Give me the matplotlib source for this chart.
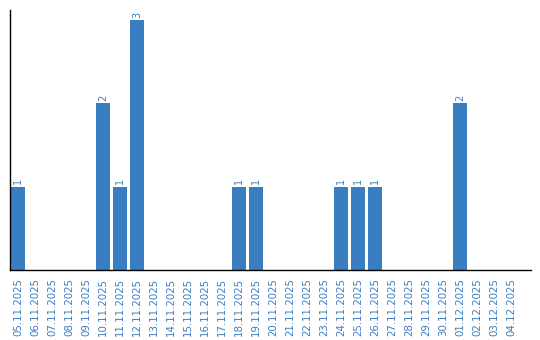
import matplotlib
matplotlib.use("Agg")
import matplotlib.pyplot as plt

dates = ["05.11.2025", "06.11.2025", "07.11.2025", "08.11.2025", "09.11.2025",
         "10.11.2025", "11.11.2025", "12.11.2025", "13.11.2025", "14.11.2025",
         "15.11.2025", "16.11.2025", "17.11.2025", "18.11.2025", "19.11.2025",
         "20.11.2025", "21.11.2025", "22.11.2025", "23.11.2025", "24.11.2025",
         "25.11.2025", "26.11.2025", "27.11.2025", "28.11.2025", "29.11.2025",
         "30.11.2025", "01.12.2025", "02.12.2025", "03.12.2025", "04.12.2025"]
counts = [1, 0, 0, 0, 0, 2, 1, 3, 0, 0, 0, 0, 0, 1, 1,
          0, 0, 0, 0, 1, 1, 1, 0, 0, 0, 0, 2, 0, 0, 0]

blue = "#3a7ec2"

fig = plt.figure(figsize=(5.4, 3.4), dpi=100)
ax = fig.add_axes([0.0194, 0.206, 0.964, 0.764])

x = list(range(len(dates)))
ax.bar(x, counts, width=0.82, color=blue)
for i, v in zip(x, counts):
    if v > 0:
        ax.text(i, v + 0.03, str(v), rotation=90, ha="center", va="bottom",
                color=blue, fontsize=7)

ax.set_xlim(-0.44, 30.18)
ax.set_ylim(0, 3.12)
ax.set_xticks(x)
ax.set_xticklabels(dates, rotation=90, color=blue, fontsize=7.4)
ax.tick_params(axis="x", length=0, pad=6)
ax.set_yticks([])
ax.spines["top"].set_visible(False)
ax.spines["right"].set_visible(False)
ax.spines["left"].set_linewidth(1.0)
ax.spines["bottom"].set_linewidth(1.0)

fig.savefig("out.png", dpi=100)
